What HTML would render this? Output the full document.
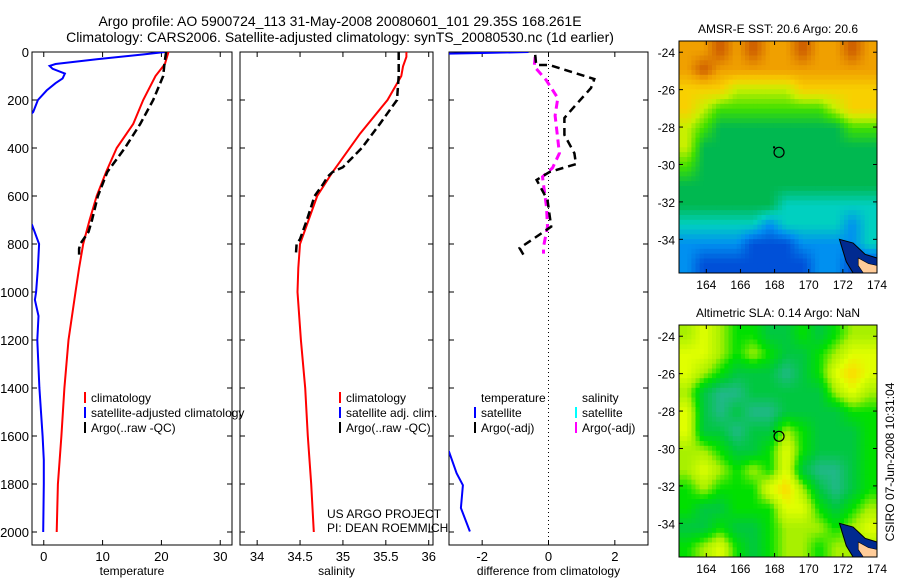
<!DOCTYPE html>
<html><head><meta charset="utf-8">
<style>
body{margin:0;background:#fff;}
svg{display:block;font-family:"Liberation Sans",sans-serif;}
text{fill:#000;}
</style></head>
<body>
<svg id="fig" width="900" height="580" viewBox="0 0 900 580">
<text x="340" y="26" font-size="14" text-anchor="middle">Argo profile: AO 5900724_113 31-May-2008 20080601_101 29.35S 168.261E</text>
<text x="340" y="42" font-size="14" text-anchor="middle">Climatology: CARS2006. Satellite-adjusted climatology: synTS_20080530.nc (1d earlier)</text>
<g id="g"></g>
</svg>
<script>
// ---- data ----
const tClimDepth=[0,50,100,200,300,400,500,600,700,800,900,1000,1100,1200,1400,1600,1800,2000];
const tClimVal=[21.2,20.6,19.0,16.9,15.2,12.4,10.6,9.0,7.8,6.7,6.0,5.4,4.8,4.2,3.5,3.0,2.4,2.2];
const tArgoDepth=[0,50,100,200,300,400,500,550,600,700,750,800,820,850];
const tArgoVal=[20.8,20.5,20.3,18.6,16.4,13.8,10.8,10.0,9.2,8.2,7.6,6.2,6.0,6.0];
const tSatDepth=[0,10,30,50,58,70,90,110,130,160,200,250,300,700,720,800,900,1000,1033,1100,1200,1400,1600,1700,1800,2000];
const tSatVal=[20.6,17,9,2,1.0,1.5,3.6,3.2,2,0.5,-1,-1.8,-4,-4,-2,-0.8,-1.0,-1.3,-1.5,-0.9,-1.1,-0.75,-0.2,0,0,-0.1];
const sClimDepth=[0,20,60,100,200,340,500,600,700,800,900,1000,1200,1400,1600,1800,2000];
const sClimVal=[35.74,35.74,35.7,35.68,35.52,35.2,34.88,34.7,34.6,34.5,34.48,34.47,34.51,34.56,34.59,34.63,34.66];
const sArgoDepth=[0,100,200,300,400,480,500,520,550,600,700,780,800,850];
const sArgoVal=[35.65,35.65,35.63,35.43,35.22,35.0,34.88,34.82,34.77,34.67,34.58,34.5,34.46,34.45];
const dTDepth=[12,54,54,113,150,235,275,345,422,467,500,533,617,728,817,853];
const dTVal=[-0.4,-0.37,0.03,1.38,1.28,0.73,0.48,0.48,0.78,0.83,0.03,-0.36,-0.03,0.08,-0.87,-0.72];
const dSDepth=[20,60,117,192,265,422,483,520,646,728,812,840];
const dSVal=[-0.4,-0.43,-0.07,0.28,0.2,0.33,0.12,-0.18,-0.06,-0.03,-0.15,-0.15];
const dSatTopDepth=[0,4,8];
const dSatTopVal=[-0.6,-2,-3.5];
const dSatDepth=[1600,1665,1755,1805,1900,1998];
const dSatVal=[-3.4,-3,-2.77,-2.58,-2.64,-2.37];
const tTicks=[0,10,20,30], sTicks=[34,34.5,35,35.5,36], dTicks=[-2,0,2];
const depthTicks=[0,200,400,600,800,1000,1200,1400,1600,1800,2000];
const lonTicks=[164,166,168,170,172,174], latTicks=[-24,-26,-28,-30,-32,-34];
const sstGrid=["889898898898","898888888888","777666677777","765555555677","654444444455","644444444444","544444444444","444444444444","444444333333","333332333323","222211122223","211111112211"];
const slaGrid=["676554454566","776565445677","765444345787","643344444676","743433444455","744344654445","665445754445","676565743345","565557864345","544555775456","445445666567","567545665666"];
const floatLon=168.261, floatLat=-29.35;

const NS="http://www.w3.org/2000/svg";
const G=document.getElementById('g');
function el(tag,attrs,parent,txt){const e=document.createElementNS(NS,tag);for(const k in attrs)e.setAttribute(k,attrs[k]);if(txt!==undefined)e.textContent=txt;(parent||G).appendChild(e);return e;}
const yD=d=>52+d*0.24;
const PB=545;

function panel(name,x0,x1,xmin,xmax,ticks,label,leftLabels){
  const sx=v=>x0+(v-xmin)/(xmax-xmin)*(x1-x0);
  const grp=el('g',{});
  
  
  const cp=el('clipPath',{id:'cp-'+name},grp);
  el('rect',{x:x0,y:52,width:x1-x0,height:PB-52},cp);
  const fr=el('rect',{x:x0,y:52,width:x1-x0,height:PB-52,fill:'none',stroke:'#000','stroke-width':1},grp);
  
  
  ticks.forEach(t=>{const x=sx(t);
    el('line',{x1:x,x2:x,y1:PB,y2:PB-5,stroke:'#000'},grp);
    el('line',{x1:x,x2:x,y1:52,y2:57,stroke:'#000'},grp);
    const tl=el('text',{x:x,y:PB+16,'font-size':13,'text-anchor':'middle'},grp,String(t));
    
    
  });
  depthTicks.forEach(d=>{const y=yD(d);
    el('line',{x1:x0,x2:x0+5,y1:y,y2:y,stroke:'#000'},grp);
    el('line',{x1:x1,x2:x1-5,y1:y,y2:y,stroke:'#000'},grp);
    if(leftLabels){const tl=el('text',{x:x0-3,y:y+5,'font-size':13,'text-anchor':'end'},grp,String(d));
      
      }
  });
  const xl=el('text',{x:(x0+x1)/2,y:575,'font-size':12,'text-anchor':'middle'},grp,label);
  
  
  const plot=el('g',{'clip-path':'url(#cp-'+name+')'},grp);
  return {sx,plot,grp};
}
function line(p,depths,vals,color,w,dash,name){
  const pts=depths.map((d,i)=>p.sx(vals[i]).toFixed(1)+','+yD(d).toFixed(1)).join(' ');
  const a={points:pts,fill:'none',stroke:color,'stroke-width':w};
  if(dash)a['stroke-dasharray']=dash;
  const l=el('polyline',a,p.plot);
  
  
}
function legend(grp,x,y,items){
  items.forEach((it,i)=>{
    if(it[0])el('rect',{x:x,y:y+i*15-10,width:2,height:11,fill:it[0]},grp);
    const t=el('text',{x:x+7,y:y+i*15,'font-size':12},grp,it[1]);
    
    
  });
}
// temperature panel
const p1=panel('temperature',32,232,-2,32,tTicks,'temperature',true);
line(p1,tSatDepth,tSatVal,'#0000ff',2,null,'temp-satellite-adjusted-line');
line(p1,tClimDepth,tClimVal,'#ff0000',2,null,'temp-climatology-line');
line(p1,tArgoDepth,tArgoVal,'#000',2.5,'8,4','temp-argo-line');
legend(p1.grp,84,402,[['#ff0000','climatology'],['#0000ff','satellite-adjusted climatology'],['#000','Argo(..raw -QC)']]);
// salinity panel
const p2=panel('salinity',240,433,33.8,36.05,sTicks,'salinity',false);
line(p2,sClimDepth,sClimVal,'#ff0000',2,null,'sal-climatology-line');
line(p2,sArgoDepth,sArgoVal,'#000',2.5,'8,4','sal-argo-line');
legend(p2.grp,339,402,[['#ff0000','climatology'],['#0000ff','satellite adj. clim.'],['#000','Argo(..raw -QC)']]);
let t1=el('text',{x:327,y:518,'font-size':12},p2.grp,'US ARGO PROJECT');


let t2=el('text',{x:327,y:532,'font-size':12},p2.grp,'PI: DEAN ROEMMICH');


// difference panel
const p3=panel('difference',449,648,-3,3,dTicks,'difference from climatology',false);
el('line',{x1:p3.sx(0),x2:p3.sx(0),y1:52,y2:PB,stroke:'#000','stroke-dasharray':'1,3'},p3.plot);
line(p3,dSatTopDepth,dSatTopVal,'#0000ff',2,null,'diff-temp-satellite-top');
line(p3,dSatDepth,dSatVal,'#0000ff',2,null,'diff-temp-satellite-deep');
line(p3,dSDepth,dSVal,'#ff00ff',3,'8,5','diff-sal-argo-line');
line(p3,dTDepth,dTVal,'#000',2.5,'8,5','diff-temp-argo-line');
legend(p3.grp,474,402,[[null,'temperature'],['#0000ff','satellite'],['#000','Argo(-adj)']]);
legend(p3.grp,575,402,[[null,'salinity'],['#00ffff','satellite'],['#ff00ff','Argo(-adj)']]);

// maps
const cmapSST=['#0030b0','#0050d8','#0090f0','#00d0c0','#00b850','#40e000','#c8f000','#f8d000','#f0a000','#cc5a00'];
const cmapSLA=['#0030b0','#0050d8','#0090f0','#20b888','#00c840','#00e000','#a8f000','#e0ff00','#ffd800','#f0a000'];
function hex2rgb(h){return [1,3,5].map(i=>parseInt(h.substr(i,2),16));}
function cmapColor(cmap,v){
  v=Math.max(0,Math.min(cmap.length-1,v));
  const i=Math.min(cmap.length-2,Math.floor(v)),f=v-i;
  const a=hex2rgb(cmap[i]),b=hex2rgb(cmap[i+1]);
  return 'rgb('+a.map((x,k)=>Math.round(x+(b[k]-x)*f)).join(',')+')';
}
function sample(grid,r,c){
  const rows=grid.length,cols=grid[0].length;
  r=Math.max(0,Math.min(rows-1,r));c=Math.max(0,Math.min(cols-1,c));
  const r0=Math.floor(r),c0=Math.floor(c),r1=Math.min(rows-1,r0+1),c1=Math.min(cols-1,c0+1),fr=r-r0,fc=c-c0;
  const g=(a,b)=>+grid[a][b];
  return (g(r0,c0)*(1-fc)+g(r0,c1)*fc)*(1-fr)+(g(r1,c0)*(1-fc)+g(r1,c1)*fc)*fr;
}
function map(name,top,grid,cmap,title){
  const x0=679,x1=877,y1=top+232;
  const lonMin=162.4,lonMax=174,latMax=-23.4,latMin=-35.8;
  const sx=v=>x0+(v-lonMin)/(lonMax-lonMin)*(x1-x0);
  const sy=v=>top+(latMax-v)/(latMax-latMin)*(y1-top);
  const grp=el('g',{});
  
  
  const rows=grid.length,cols=grid[0].length,SUB=4;
  const nr=rows*SUB,nc=cols*SUB,cw=(x1-x0)/nc,ch=(y1-top)/nr;
  for(let r=0;r<nr;r++){for(let c=0;c<nc;c++){
    const v=sample(grid,(r+0.5)/SUB-0.5,(c+0.5)/SUB-0.5);
    const cell=el('rect',{x:(x0+c*cw).toFixed(2),y:(top+r*ch).toFixed(2),width:(cw+0.5).toFixed(2),height:(ch+0.5).toFixed(2),fill:cmapColor(cmap,v)},grp);
    
    
  }}
  const coast=el('polygon',{points:[[171.8,-34.0],[172.6,-34.2],[173.3,-34.8],[174,-35.0],[174,-35.8],[172.6,-35.8],[172.2,-35.2]].map(p=>sx(p[0])+','+sy(p[1])).join(' '),fill:'#002a90',stroke:'#000','stroke-width':1},grp);
  
  
  const land=el('polygon',{points:[[172.9,-35.0],[173.5,-35.3],[174,-35.4],[174,-35.8],[173.2,-35.8],[172.9,-35.4]].map(p=>sx(p[0])+','+sy(p[1])).join(' '),fill:'#ffcc99',stroke:'#000','stroke-width':0.6},grp);
  
  
  el('rect',{x:x0,y:top,width:x1-x0,height:y1-top,fill:'none',stroke:'#000'},grp);
  lonTicks.forEach(v=>{const x=sx(v);
    el('line',{x1:x,x2:x,y1:y1,y2:y1-4,stroke:'#000'},grp);
    el('line',{x1:x,x2:x,y1:top,y2:top+4,stroke:'#000'},grp);
    const t=el('text',{x:x,y:y1+16,'font-size':12,'text-anchor':'middle'},grp,String(v));
    
    });
  latTicks.forEach(v=>{const y=sy(v);
    el('line',{x1:x0,x2:x0+4,y1:y,y2:y,stroke:'#000'},grp);
    el('line',{x1:x1,x2:x1-4,y1:y,y2:y,stroke:'#000'},grp);
    const t=el('text',{x:x0-4,y:y+5,'font-size':12,'text-anchor':'end'},grp,String(v));
    
    });
  const fc=el('circle',{cx:sx(floatLon),cy:sy(floatLat),r:5,fill:'none',stroke:'#000','stroke-width':1.2},grp);
  
  
  el('rect',{x:sx(floatLon)-6,y:sy(floatLat)-6,width:2,height:2,fill:'#000'},grp);
  const tt=el('text',{x:(x0+x1)/2,y:top-8,'font-size':12,'text-anchor':'middle'},grp,title);
  
  
}
map('sst-map',41,sstGrid,cmapSST,'AMSR-E SST: 20.6 Argo: 20.6');
map('sla-map',325,slaGrid,cmapSLA,'Altimetric SLA: 0.14 Argo: NaN');
const cs=el('text',{x:0,y:0,'font-size':12,'text-anchor':'middle',transform:'translate(894,462) rotate(-90)'});


cs.textContent='CSIRO 07-Jun-2008 10:31:04';
</script>
</body></html>
